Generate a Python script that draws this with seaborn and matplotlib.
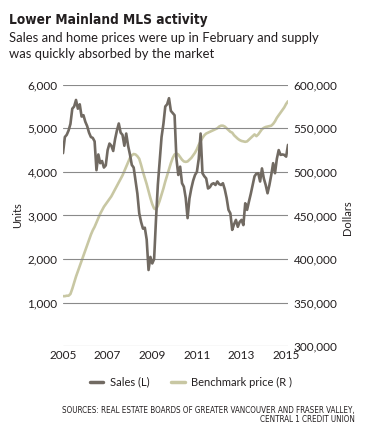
import numpy as np
import pandas as pd
import matplotlib
matplotlib.use("Agg")
import matplotlib.pyplot as plt
from matplotlib.lines import Line2D
from matplotlib.ticker import FuncFormatter
import seaborn as sns

# ---- data (monthly, Jan 2005 - Feb 2015) ----
sales = [4430, 4800, 4850, 4950, 5100, 5450, 5500, 5650, 5450, 5550, 5270, 5300,
         5150, 5050, 4900, 4800, 4780, 4700, 4040, 4400, 4200, 4250, 4100, 4150,
         4500, 4650, 4600, 4480, 4750, 4950, 5110, 4900, 4850, 4600, 4880, 4600,
         4400, 4160, 4100, 3800, 3500, 3050, 2850, 2700, 2720, 2450, 1750, 2050,
         1900, 2000, 2900, 3700, 4250, 4800, 5100, 5500, 5550, 5690, 5400, 5350,
         5300, 4300, 3930, 4120, 3740, 3660, 3400, 2940, 3390, 3620, 3800, 3930,
         4000, 4300, 4880, 3970, 3900, 3850, 3620, 3650, 3720, 3740, 3700, 3780,
         3720, 3700, 3740, 3600, 3400, 3130, 3050, 2670, 2800, 2900, 2740, 2850,
         2900, 2780, 3280, 3130, 3320, 3500, 3700, 3900, 3960, 3970, 3780, 4080,
         3850, 3700, 3510, 3700, 3930, 4200, 3970, 4300, 4500, 4390, 4400, 4390,
         4350, 4620]

benchmark = [357.5, 357.5, 358, 358, 360, 366, 373, 380, 386, 392, 398, 404,
             410, 416, 422, 428, 433, 437, 442, 447, 452, 456, 460, 463,
             466, 469, 472, 476, 480, 484, 488, 492, 496, 501, 506, 511,
             516, 519, 520.5, 520, 518, 515, 508, 500, 493, 486, 478, 470,
             463, 458, 457, 461, 467, 474, 481, 489, 496, 503, 510, 516,
             520, 521, 520, 517, 514, 512, 511.5, 512, 514, 516, 519, 522,
             526, 531, 535, 539, 542, 544, 545, 546, 547, 548, 549, 550,
             552, 553, 553, 552, 550, 548, 546, 545, 542, 540, 538, 536.5,
             535.5, 535, 534.5, 535, 537, 539, 541, 543, 541, 543, 546, 549,
             550.5, 551.5, 552, 552.5, 553, 555, 558, 562, 565, 568, 571, 574,
             578, 581]
benchmark = [v * 1000 for v in benchmark]

year_ticks = [2005, 2007, 2009, 2011, 2013, 2015]
left_ticks = [0, 1000, 2000, 3000, 4000, 5000, 6000]
right_ticks = [300000, 350000, 400000, 450000, 500000, 550000, 600000]

title = "Lower Mainland MLS activity"
subtitle_lines = ["Sales and home prices were up in February and supply",
                  "was quickly absorbed by the market"]
source_lines = ["SOURCES: REAL ESTATE BOARDS OF GREATER VANCOUVER AND FRASER VALLEY,",
                "CENTRAL 1 CREDIT UNION"]
labels = ["Sales (L)", "Benchmark price (R )"]

# ---- styling ----
sns.set_theme(style="white")
plt.rcParams['font.family'] = ['Lato', 'DejaVu Sans']

SALES_C = "#716a62"
BENCH_C = "#c8c7a3"
GRID_C = "#8a8a8a"
TEXT_C = "#231f20"

t = 2005 + np.arange(len(sales)) / 12.0
df = pd.DataFrame({"t": t, "sales": sales, "bench": benchmark})

fig = plt.figure(figsize=(3.70, 4.36), dpi=100)
ax = fig.add_axes([63/370, (436-346.3)/436, 225/370, 261.6/436])
ax2 = ax.twinx()

for a in (ax, ax2):
    for s in a.spines.values():
        s.set_visible(False)
    a.tick_params(length=0, labelsize=8.5, colors=TEXT_C)

ax.set_ylim(0, 6000)
ax2.set_ylim(300000, 600000)
ax.set_xlim(2005, 2005 + 121/12)

for y in left_ticks:
    ax.axhline(y, color=GRID_C, lw=0.8, zorder=0)

sns.lineplot(data=df, x="t", y="bench", ax=ax2, color=BENCH_C, lw=1.9, zorder=2)
sns.lineplot(data=df, x="t", y="sales", ax=ax, color=SALES_C, lw=1.9, zorder=3)
ax.set_zorder(ax2.get_zorder() + 1)
ax.patch.set_visible(False)

ax.set_yticks(left_ticks[1:])
ax.yaxis.set_major_formatter(FuncFormatter(lambda v, p: f"{int(v):,}"))
ax2.set_yticks(right_ticks)
ax2.yaxis.set_major_formatter(FuncFormatter(lambda v, p: f"{int(v):,}"))
ax.tick_params(axis='y', pad=4)
ax2.tick_params(axis='y', pad=4)
ax.set_xticks(year_ticks)
ax.set_xticklabels([str(y) for y in year_ticks])
ax.tick_params(axis='x', pad=3)
ax.set_xlabel("")
ax.set_ylabel("")
ax2.set_ylabel("")

fig.text(18/370, 1-215/436, "Units", rotation=90, ha="center", va="center",
         fontsize=8, color=TEXT_C)
fig.text(348/370, 1-218/436, "Dollars", rotation=90, ha="center", va="center",
         fontsize=8, color=TEXT_C)

fig.text(9/370, 1-24/436, title, fontsize=9.8, fontweight="bold", color=TEXT_C,
         family=['DejaVu Sans'], fontstretch='condensed', va="baseline")
fig.text(9/370, 1-41.7/436, subtitle_lines[0], fontsize=9.4, color=TEXT_C, va="baseline")
fig.text(9/370, 1-58.3/436, subtitle_lines[1], fontsize=9.4, color=TEXT_C, va="baseline")

handles = [Line2D([], [], color=SALES_C, lw=2.5), Line2D([], [], color=BENCH_C, lw=2.5)]
fig.legend(handles, labels, loc="center", bbox_to_anchor=(191/370, 1-382/436), ncol=2,
           frameon=False, fontsize=8, handlelength=1.2, columnspacing=2.0,
           handletextpad=0.6, labelcolor=TEXT_C)

fig.text(355/370, 1-413/436, source_lines[0], ha="right", va="baseline", fontsize=5.75,
         color=TEXT_C, family=['DejaVu Sans'], fontstretch='condensed')
fig.text(355/370, 1-422/436, source_lines[1], ha="right", va="baseline", fontsize=5.75,
         color=TEXT_C, family=['DejaVu Sans'], fontstretch='condensed')

fig.savefig("out.png", dpi=100)
